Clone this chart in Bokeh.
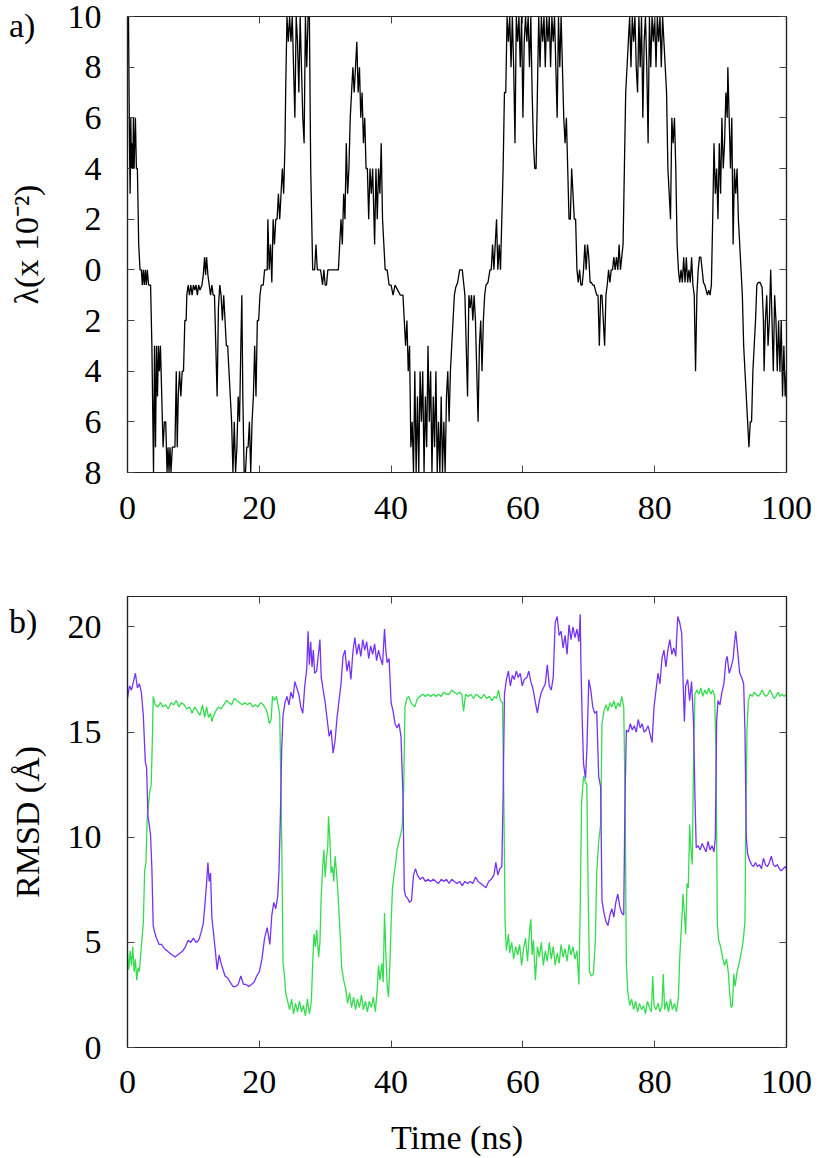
from bokeh.plotting import figure
from bokeh.layouts import column
from bokeh.models import LinearAxis, FixedTicker, Range1d, Label
from bokeh.embed import file_html
from bokeh.resources import INLINE

# ---------------- data ----------------
x_ticks = [0, 20, 40, 60, 80, 100]
lam_ticks = [-8, -6, -4, -2, 0, 2, 4, 6, 8, 10]
lam_tick_labels = ["8", "6", "4", "2", "0", "2", "4", "6", "8", "10"]
rmsd_ticks = [0, 5, 10, 15, 20]
panel_labels = ["a)", "b)"]

lam_t = [0.0, 0.15, 0.3, 0.4, 0.5, 0.6, 0.7, 0.8, 0.9, 1.0, 1.1, 1.2, 1.35, 1.5, 1.7, 1.9, 2.1, 2.25, 2.4, 2.55,
         2.7, 2.85, 3.0, 3.2, 3.5, 3.7, 3.95, 4.1, 4.25, 4.4, 4.55, 4.7, 4.85, 5.0, 5.2, 5.4, 5.6, 5.8, 6.0, 6.15,
         6.3, 6.45, 6.6, 6.8, 7.0, 7.2, 7.4, 7.55, 7.7, 7.9, 8.1, 8.3, 8.5, 8.7, 8.9, 9.0, 9.2, 9.4, 9.6, 9.8,
         10.0, 10.2, 10.4, 10.6, 10.8, 11.0, 11.3, 11.5, 11.7, 11.85, 12.0, 12.2, 12.4, 12.6, 12.8, 13.0, 13.2, 13.4, 13.6, 13.8,
         14.0, 14.2, 14.4, 14.6, 14.8, 15.0, 15.2, 15.4, 15.6, 15.8, 16.0, 16.2, 16.4, 16.6, 16.8, 17.0, 17.2, 17.35, 17.5, 17.7,
         17.9, 18.1, 18.3, 18.5, 18.7, 18.9, 19.1, 19.3, 19.5, 19.7, 19.9, 20.1, 20.3, 20.6, 20.8, 21.2, 21.3, 21.5, 21.7, 21.9,
         22.1, 22.3, 22.5, 22.7, 22.9, 23.1, 23.3, 23.5, 23.7, 23.9, 24.0, 24.2, 24.4, 24.6, 24.8, 25.0, 25.2, 25.4, 25.6, 25.8,
         26.0, 26.2, 26.4, 26.6, 26.8, 27.0, 27.2, 27.4, 27.6, 27.8, 27.95, 28.1, 28.4, 28.6, 28.8, 29.3, 29.6, 29.8, 30.0, 30.2,
         30.4, 31.0, 31.6, 32.0, 32.2, 32.4, 32.6, 32.8, 33.0, 33.2, 33.4, 33.6, 33.8, 34.0, 34.2, 34.4, 34.6, 34.8, 35.0, 35.2,
         35.4, 35.6, 35.8, 36.0, 36.2, 36.4, 36.6, 36.8, 37.0, 37.2, 37.4, 37.5, 37.7, 37.9, 38.1, 38.3, 38.5, 38.7, 38.9, 39.1,
         39.4, 39.7, 40.0, 40.3, 40.6, 41.0, 41.4, 41.8, 42.0, 42.2, 42.4, 42.6, 42.8, 43.0, 43.2, 43.4, 43.6, 43.8, 44.0, 44.2,
         44.4, 44.6, 44.8, 45.0, 45.2, 45.4, 45.6, 45.8, 46.0, 46.2, 46.4, 46.6, 46.8, 47.0, 47.2, 47.4, 47.6, 47.8, 48.0, 48.2,
         48.4, 48.6, 48.8, 49.0, 49.2, 49.4, 49.6, 49.8, 50.1, 50.4, 50.8, 51.0, 51.2, 51.4, 51.6, 51.8, 52.0, 52.2, 52.4, 52.6,
         52.8, 53.0, 53.2, 53.4, 53.6, 53.8, 54.0, 54.2, 54.4, 54.7, 55.0, 55.2, 55.4, 55.6, 55.8, 56.0, 56.2, 56.4, 56.6, 56.8,
         57.0, 57.2, 57.4, 57.6, 57.8, 58.0, 58.2, 58.4, 58.6, 58.8, 59.0, 59.2, 59.4, 59.6, 59.8, 60.0, 60.2, 60.4, 60.6, 60.8,
         61.0, 61.2, 61.4, 61.6, 61.8, 62.0, 62.2, 62.4, 62.6, 62.8, 63.0, 63.2, 63.4, 63.6, 63.8, 64.0, 64.2, 64.4, 64.6, 64.8,
         65.0, 65.2, 65.4, 65.6, 65.8, 66.0, 66.2, 66.4, 66.6, 66.8, 67.0, 67.2, 67.4, 67.6, 67.8, 68.0, 68.2, 68.4, 68.6, 68.8,
         69.0, 69.2, 69.4, 69.6, 69.8, 70.0, 70.2, 70.4, 70.6, 70.8, 71.0, 71.2, 71.4, 71.6, 71.8, 72.0, 72.2, 72.4, 72.6, 72.8,
         73.0, 73.2, 73.4, 73.6, 73.8, 74.0, 74.2, 74.4, 74.6, 74.8, 75.0, 75.2, 75.4, 75.6, 75.8, 76.0, 76.2, 76.4, 76.6, 76.8,
         77.0, 77.2, 77.4, 77.6, 77.8, 78.0, 78.2, 78.4, 78.6, 78.8, 79.0, 79.2, 79.4, 79.6, 79.8, 80.0, 80.2, 80.4, 80.6, 80.8,
         81.0, 81.2, 81.4, 81.6, 81.8, 82.0, 82.2, 82.4, 82.6, 82.8, 83.0, 83.2, 83.4, 83.6, 83.8, 84.0, 84.2, 84.4, 84.6, 84.8,
         85.0, 85.2, 85.4, 85.6, 85.8, 86.0, 86.2, 86.4, 86.6, 86.8, 87.0, 87.2, 87.4, 87.6, 87.8, 88.0, 88.2, 88.4, 88.6, 88.8,
         89.0, 89.2, 89.4, 89.6, 89.8, 90.0, 90.2, 90.4, 90.6, 90.8, 91.0, 91.1, 91.3, 91.5, 91.7, 91.9, 92.1, 92.3, 92.5, 92.7,
         92.9, 93.1, 93.3, 93.5, 93.7, 93.9, 94.1, 94.3, 94.5, 94.7, 94.9, 95.1, 95.3, 95.5, 95.7, 96.0, 96.3, 96.5, 96.6, 96.8,
         97.0, 97.2, 97.4, 97.6, 97.8, 98.0, 98.2, 98.4, 98.6, 98.8, 99.0, 99.2, 99.4, 99.6, 99.8, 100.0]
lam_v = [9.5, 10, 5, 3, 6, 4, 5, 4, 6, 4, 5, 6, 4, 4, 1, 0, 0, -0.6, 0, -0.6,
         0, -0.6, 0, -0.6, -0.6, -3, -8, -3, -7, -3, -5, -3, -4, -3, -5, -7, -6, -6, -8, -7,
         -8, -7, -8, -7, -7, -7, -4, -7, -5, -4, -5, -4, -4, -2, -2, -1, -0.6, -1, -0.6, -1,
         -0.6, -0.8, -0.6, -1, -0.6, -0.8, -0.6, -0.2, 0.5, -0.2, 0.5, -0.2, -0.6, -1, -0.6, -1, -1, -3, -5, -1.5,
         -0.6, -1, -2, -1, -2, -3, -3, -4, -5, -6, -8, -6, -8, -7, -5, -6, -3, -1, -5, -8,
         -8, -7, -7, -6, -8, -6, -5, -3, -5, -2, -2, -1, -0.6, -0.6, 0, 0, 2, 0, 1, -0.5,
         2, 1, 2, 2, 3, 2, 3, 4, 3, 5, 7, 10, 9, 10, 9, 10, 8, 6, 10, 9,
         7, 10, 8, 6, 5, 10, 8, 10, 10, 4, 2, 0, 0, 1, 0, 0, -0.6, 0, -0.6, -0.6,
         0, 0, 0, 0, 1, 2, 1, 3, 2, 5, 3, 4, 6, 7, 8, 7, 8, 9, 7, 8,
         6, 7, 5, 6, 4, 4, 2, 4, 3, 4, 2, 1, 4, 2, 4, 3, 5, 2, 1, 0,
         0, -0.6, -0.6, -1, -0.6, -0.8, -1, -1, -2, -3, -2, -4, -3, -7, -6, -8, -4, -8, -5, -8,
         -4, -6, -4, -8, -5, -7, -3, -6, -4, -8, -5, -7, -4, -8, -6, -8, -5, -8, -6, -8,
         -5, -4, -6, -4, -3, -2, -1, -0.7, -0.5, 0, 0, -0.5, -1, -3, -5, -1, -1.5, -1, -2, -1,
         -2, -4, -6, -3, -2, -4, -2, -1, -0.6, -0.5, 0, 0, 1, 0, 1, 2, 0, 1, 0, 2,
         4, 7, 7, 10, 9, 10, 8, 10, 8, 5, 10, 9, 10, 8, 10, 6, 9, 10, 9, 10,
         8, 10, 7, 5, 4, 4, 7, 10, 8, 10, 9, 10, 8, 10, 9, 10, 8, 10, 9, 10,
         8, 6, 10, 8, 10, 8, 6, 5, 6, 4, 2, 2, 4, 3, 2, 2, 0, -0.5, 0, -0.6,
         -0.6, 0, 1, 0, 1, 0.5, -0.5, -0.5, -0.6, -0.6, -0.8, -1, -1, -3, -1, -1, -2, -3, -1, -0.6,
         0, -0.5, 0, 0, 0.5, 0, 0.5, 0, 1, 0, 0.5, 1, 4, 7, 8, 9, 10, 8, 10, 9,
         10, 8, 7, 10, 8, 10, 6, 9, 10, 8, 5, 10, 8, 10, 9, 10, 8, 10, 9, 10,
         8, 10, 9, 8, 7, 4, 3, 2, 6, 5, 6, 4, 1, 0, -0.5, 0, -0.5, 0.5, -0.5, 0.5,
         -0.5, 0, -0.5, 0.5, -0.6, -1, -4, -1, 0, 0.5, 0.5, 0, -0.5, -0.6, -0.8, -1, -0.8, -1, -0.6, 2,
         5, 3, 4, 2, 5, 3, 6, 4, 5, 7, 6, 8, 6, 4, 6, 1, 4, 3, 4, 2,
         1, 0, -1, -3, -4, -5, -6, -7, -6, -6, -4, -3, -2, -0.6, -0.5, -0.5, -0.7, -2, -4, -2,
         -1, -3, -2, 0, -2, -4, -1, -2, -4, -2, -4, -2, -5, -3, -5, -4]

rmsd_purple_t = [0.0, 0.3, 0.6, 0.9, 1.2, 1.5, 1.8, 2.1, 2.4, 2.7, 2.9, 3.1, 3.3, 3.5, 3.7, 3.9, 4.1, 4.4, 4.8, 5.2,
                 5.6, 6.0, 6.4, 6.8, 7.2, 7.6, 8.0, 8.4, 8.8, 9.2, 9.6, 10.0, 10.4, 10.8, 11.2, 11.5, 11.8, 12.0, 12.2, 12.4,
                 12.6, 12.8, 13.0, 13.3, 13.6, 13.9, 14.2, 14.5, 14.8, 15.2, 15.6, 16.0, 16.4, 16.8, 17.2, 17.6, 18.0, 18.4, 18.8, 19.2,
                 19.6, 20.0, 20.4, 20.8, 21.2, 21.6, 21.9, 22.2, 22.5, 22.8, 23.0, 23.2, 23.4, 23.6, 23.9, 24.2, 24.5, 24.8, 25.1, 25.4,
                 25.7, 26.0, 26.3, 26.6, 26.9, 27.2, 27.4, 27.6, 27.8, 28.0, 28.2, 28.4, 28.7, 29.0, 29.2, 29.4, 29.7, 30.0, 30.3, 30.6,
                 30.9, 31.2, 31.5, 31.8, 32.1, 32.4, 32.7, 33.0, 33.3, 33.6, 33.9, 34.2, 34.5, 34.8, 35.1, 35.4, 35.7, 36.0, 36.3, 36.6,
                 36.9, 37.2, 37.5, 37.8, 38.1, 38.4, 38.7, 39.0, 39.2, 39.4, 39.7, 40.0, 40.3, 40.6, 40.9, 41.2, 41.5, 41.8, 42.0, 42.2,
                 42.5, 42.8, 43.1, 43.4, 43.7, 44.0, 44.4, 44.8, 45.2, 45.6, 46.0, 46.4, 46.8, 47.2, 47.6, 48.0, 48.4, 48.8, 49.2, 49.6,
                 50.0, 50.4, 50.8, 51.2, 51.6, 52.0, 52.4, 52.8, 53.2, 53.6, 54.0, 54.4, 54.8, 55.2, 55.6, 55.9, 56.2, 56.5, 56.8, 57.0,
                 57.2, 57.5, 57.8, 58.1, 58.4, 58.7, 59.0, 59.3, 59.6, 59.9, 60.2, 60.6, 60.9, 61.2, 61.5, 61.9, 62.2, 62.5, 62.8, 63.1,
                 63.4, 63.7, 64.0, 64.3, 64.6, 64.9, 65.2, 65.5, 65.8, 66.1, 66.4, 66.7, 67.0, 67.3, 67.6, 67.9, 68.2, 68.5, 68.7, 68.8,
                 69.0, 69.2, 69.5, 69.7, 70.0, 70.3, 70.6, 70.9, 71.2, 71.5, 71.8, 72.0, 72.3, 72.6, 72.9, 73.2, 73.5, 73.8, 74.1, 74.4,
                 74.7, 75.0, 75.3, 75.5, 75.7, 76.0, 76.3, 76.6, 76.9, 77.2, 77.5, 77.8, 78.1, 78.4, 78.7, 79.0, 79.3, 79.6, 79.9, 80.2,
                 80.5, 80.8, 81.1, 81.4, 81.7, 82.0, 82.3, 82.6, 82.9, 83.2, 83.5, 83.8, 84.1, 84.3, 84.5, 84.7, 85.0, 85.3, 85.6, 85.9,
                 86.1, 86.3, 86.6, 86.9, 87.2, 87.5, 87.8, 88.1, 88.4, 88.7, 89.0, 89.2, 89.4, 89.6, 89.9, 90.2, 90.5, 90.8, 91.0, 91.3,
                 91.6, 91.9, 92.1, 92.3, 92.6, 92.9, 93.2, 93.5, 93.7, 93.9, 94.1, 94.4, 94.7, 95.0, 95.3, 95.6, 95.9, 96.2, 96.5, 96.8,
                 97.1, 97.4, 97.7, 98.0, 98.3, 98.6, 98.9, 99.2, 99.5, 99.8, 100.0]
rmsd_purple = [16.6, 17.2, 17.0, 17.4, 17.8, 17.1, 17.3, 16.9, 15.8, 13.6, 13.3, 11.0, 10.6, 10.1, 8.5, 5.8, 5.5, 5.2, 4.9, 4.9,
               4.7, 4.6, 4.5, 4.4, 4.3, 4.4, 4.5, 4.6, 4.8, 5.1, 5.0, 5.2, 5.0, 5.1, 5.5, 5.9, 7.0, 7.8, 8.8, 7.9,
               8.3, 6.2, 5.6, 4.7, 3.7, 4.4, 4.0, 3.7, 3.4, 3.3, 3.1, 2.9, 2.9, 3.0, 3.4, 3.0, 3.0, 2.9, 3.0, 3.1,
               3.4, 3.6, 4.2, 5.2, 5.7, 4.9, 6.3, 6.9, 6.6, 7.2, 8.5, 11.0, 14.2, 15.8, 16.4, 16.7, 16.3, 16.9, 16.6, 17.4,
               17.1, 16.8, 16.2, 15.9, 17.2, 18.0, 19.8, 18.2, 19.3, 18.1, 18.9, 17.8, 17.9, 18.8, 19.4, 17.6, 17.0, 16.4, 15.6, 14.8,
               15.1, 14.0, 14.6, 15.7, 16.5, 17.3, 18.6, 18.9, 17.9, 18.4, 17.5, 18.8, 19.5, 18.7, 19.2, 18.6, 19.4, 18.9, 19.3, 18.5,
               19.1, 18.7, 19.2, 18.4, 18.9, 18.5, 18.2, 19.9, 18.9, 18.3, 18.5, 16.4, 16.0, 15.4, 15.2, 15.4, 14.8, 12.0, 7.5, 7.2,
               7.1, 6.9, 7.0, 8.2, 8.5, 8.2, 8.0, 8.1, 7.9, 8.0, 7.9, 8.0, 7.9, 7.8, 8.0, 7.9, 8.0, 7.8, 8.0, 7.9,
               7.8, 7.9, 7.7, 7.9, 7.8, 7.9, 7.8, 8.1, 7.9, 7.8, 7.7, 7.6, 7.9, 8.0, 8.2, 8.8, 8.2, 8.5, 8.6, 12.0,
               16.8, 17.5, 17.9, 17.2, 17.7, 17.5, 17.9, 17.6, 17.8, 17.2, 17.5, 17.6, 17.9, 17.4, 17.1, 16.4, 15.9, 16.5, 16.9, 17.1,
               17.3, 18.2, 17.2, 17.0, 17.6, 20.2, 20.5, 19.6, 19.8, 19.0, 19.6, 18.7, 20.1, 19.4, 20.0, 19.5, 19.9, 19.3, 20.6, 18.3,
               15.6, 13.5, 12.8, 14.1, 17.5, 17.0, 16.2, 15.9, 16.0, 12.9, 12.4, 7.0, 6.4, 6.0, 5.8, 6.3, 6.6, 6.2, 6.9, 7.3,
               6.7, 6.4, 6.3, 12.0, 15.1, 15.0, 15.4, 15.1, 15.3, 15.0, 15.6, 15.2, 15.4, 15.0, 15.1, 15.3, 14.9, 14.5, 16.2, 17.0,
               17.8, 17.3, 18.5, 18.9, 18.1, 18.9, 19.4, 18.7, 19.0, 18.6, 20.5, 20.2, 19.7, 17.5, 15.5, 17.2, 17.5, 16.5, 17.4, 15.4,
               12.0, 9.5, 9.6, 9.4, 9.7, 9.5, 9.3, 9.8, 9.4, 9.6, 9.3, 10.0, 15.5, 16.5, 16.3, 16.9, 17.3, 18.4, 18.6, 17.8,
               18.1, 18.5, 19.2, 19.8, 18.8, 17.8, 17.6, 17.3, 15.0, 10.0, 9.2, 8.9, 8.7, 8.6, 8.8, 8.6, 8.7, 8.5, 9.0, 8.7,
               8.6, 8.8, 9.1, 8.7, 8.6, 8.7, 8.5, 8.4, 8.5, 8.6, 8.5]

rmsd_green_t = [0.0, 0.2, 0.4, 0.6, 0.8, 1.0, 1.2, 1.4, 1.6, 1.8, 2.0, 2.2, 2.4, 2.6, 2.8, 3.0, 3.2, 3.4, 3.6, 3.8,
                3.9, 4.2, 4.6, 5.0, 5.4, 5.8, 6.2, 6.6, 7.0, 7.4, 7.8, 8.2, 8.6, 9.0, 9.4, 9.8, 10.2, 10.6, 11.0, 11.4,
                11.7, 12.0, 12.3, 12.6, 12.8, 13.1, 13.4, 13.8, 14.2, 14.6, 15.0, 15.4, 15.8, 16.2, 16.6, 17.0, 17.4, 17.8, 18.2, 18.6,
                19.0, 19.4, 19.8, 20.2, 20.6, 21.0, 21.3, 21.5, 21.8, 22.0, 22.3, 22.6, 22.9, 23.1, 23.3, 23.4, 23.6, 23.8, 24.0, 24.3,
                24.6, 24.9, 25.2, 25.5, 25.8, 26.1, 26.4, 26.7, 27.0, 27.3, 27.6, 27.9, 28.1, 28.3, 28.5, 28.7, 29.0, 29.2, 29.4, 29.6,
                29.8, 30.0, 30.2, 30.4, 30.5, 30.7, 30.9, 31.1, 31.3, 31.5, 31.7, 31.9, 32.1, 32.3, 32.5, 32.8, 33.1, 33.4, 33.7, 34.0,
                34.3, 34.6, 34.9, 35.2, 35.5, 35.8, 36.1, 36.4, 36.7, 37.0, 37.3, 37.6, 37.9, 38.1, 38.3, 38.6, 38.8, 39.0, 39.2, 39.4,
                39.6, 39.8, 40.0, 40.2, 40.4, 40.7, 40.9, 41.2, 41.5, 41.7, 41.9, 42.1, 42.4, 42.7, 43.0, 43.3, 43.6, 44.0, 44.4, 44.8,
                45.2, 45.6, 46.0, 46.4, 46.8, 47.2, 47.6, 48.0, 48.4, 48.8, 49.2, 49.6, 50.0, 50.4, 50.7, 51.0, 51.3, 51.7, 52.1, 52.5,
                52.9, 53.3, 53.7, 54.1, 54.5, 54.9, 55.3, 55.7, 56.0, 56.3, 56.6, 56.9, 57.1, 57.3, 57.5, 57.8, 58.0, 58.3, 58.6, 58.9,
                59.2, 59.5, 59.8, 60.1, 60.4, 60.7, 61.0, 61.2, 61.4, 61.6, 61.9, 62.2, 62.5, 62.8, 63.1, 63.4, 63.7, 64.0, 64.3, 64.6,
                64.9, 65.2, 65.5, 65.8, 66.1, 66.4, 66.7, 67.0, 67.3, 67.6, 67.9, 68.2, 68.5, 68.7, 68.9, 69.2, 69.5, 69.7, 69.9, 70.1,
                70.4, 70.7, 71.0, 71.2, 71.5, 71.8, 72.0, 72.3, 72.6, 72.9, 73.2, 73.5, 73.8, 74.1, 74.4, 74.7, 75.0, 75.3, 75.5, 75.7,
                75.9, 76.2, 76.5, 76.8, 77.1, 77.4, 77.7, 78.0, 78.3, 78.6, 78.9, 79.2, 79.5, 79.7, 79.9, 80.2, 80.5, 80.8, 81.1, 81.3,
                81.5, 81.8, 82.1, 82.4, 82.7, 83.0, 83.3, 83.6, 83.8, 84.1, 84.3, 84.5, 84.7, 84.9, 85.1, 85.3, 85.5, 85.7, 85.9, 86.1,
                86.4, 86.7, 87.0, 87.3, 87.6, 87.9, 88.2, 88.5, 88.8, 89.1, 89.3, 89.5, 89.7, 90.0, 90.3, 90.6, 90.9, 91.2, 91.4, 91.6,
                91.8, 92.0, 92.2, 92.5, 92.8, 93.0, 93.3, 93.5, 93.7, 93.8, 94.0, 94.2, 94.5, 94.8, 95.1, 95.4, 95.7, 96.0, 96.3, 96.6,
                96.9, 97.2, 97.5, 97.8, 98.1, 98.4, 98.7, 99.0, 99.3, 99.6, 100.0]
rmsd_green = [4.5, 3.7, 4.6, 3.9, 4.8, 3.6, 4.2, 3.2, 3.8, 3.6, 4.4, 5.2, 5.9, 8.4, 8.8, 11.0, 11.6, 12.2, 12.5, 15.0,
              16.7, 16.3, 16.2, 16.4, 16.2, 16.3, 16.1, 16.4, 16.3, 16.5, 16.2, 16.4, 16.3, 16.1, 16.2, 15.9, 16.2, 16.0, 15.8, 16.3,
              15.7, 16.2, 15.7, 15.9, 15.5, 15.8, 16.0, 16.2, 16.1, 16.3, 16.5, 16.4, 16.3, 16.6, 16.5, 16.4, 16.3, 16.4, 16.3, 16.4,
              16.2, 16.3, 16.2, 16.4, 16.3, 16.1, 15.8, 15.4, 15.6, 16.7, 16.5, 16.7, 16.2, 15.8, 12.0, 9.9, 4.0, 3.5, 2.6, 2.2,
              1.8, 2.3, 1.6, 2.1, 1.7, 2.2, 1.7, 2.0, 1.5, 2.3, 1.6, 2.2, 4.0, 5.4, 4.8, 5.6, 4.3, 5.0, 7.2, 8.5,
              9.4, 8.1, 9.0, 9.6, 11.0, 10.0, 8.3, 8.6, 7.9, 9.1, 8.4, 7.5, 6.4, 5.2, 3.8, 3.2, 2.8, 2.1, 2.6, 1.9,
              2.4, 1.8, 2.3, 1.9, 2.5, 1.8, 2.2, 1.7, 2.2, 1.9, 2.4, 1.7, 2.8, 3.9, 3.2, 4.0, 3.1, 6.4, 4.5, 3.0,
              2.4, 3.8, 5.9, 7.5, 8.1, 8.8, 9.4, 9.8, 10.2, 10.6, 12.2, 16.2, 16.6, 16.7, 16.4, 16.3, 16.2, 16.6, 16.7, 16.8,
              16.7, 16.8, 16.7, 16.8, 16.7, 16.8, 16.7, 16.9, 16.8, 16.8, 17.0, 16.9, 16.8, 16.9, 16.8, 16.0, 16.8, 16.7, 16.8, 16.6,
              16.8, 16.7, 16.6, 16.8, 16.6, 16.7, 16.5, 16.7, 16.6, 17.0, 16.5, 16.4, 12.0, 5.9, 4.6, 5.4, 4.5, 5.0, 4.2, 4.8,
              4.4, 4.9, 3.9, 4.7, 5.2, 4.1, 5.5, 6.1, 4.4, 5.1, 3.2, 4.8, 4.3, 5.0, 3.9, 4.6, 4.1, 5.0, 4.2, 4.8,
              3.9, 4.5, 4.0, 4.9, 4.3, 4.7, 4.1, 4.9, 4.4, 4.8, 4.2, 4.6, 3.0, 6.7, 11.6, 12.9, 12.6, 12.5, 7.5, 3.6,
              3.4, 3.5, 5.1, 8.3, 9.8, 10.6, 15.4, 16.0, 16.3, 16.0, 16.4, 16.2, 16.5, 16.1, 16.4, 16.2, 16.7, 16.2, 12.0, 4.0,
              2.7, 2.0, 2.3, 1.8, 2.2, 1.7, 2.1, 1.8, 2.0, 1.6, 2.2, 1.9, 1.7, 3.4, 2.0, 1.8, 2.1, 1.7, 2.0, 3.5,
              1.8, 2.2, 1.7, 2.3, 1.8, 2.1, 1.7, 2.4, 4.3, 6.0, 7.3, 6.4, 5.4, 7.8, 7.6, 10.6, 9.4, 8.7, 13.8, 16.8,
              17.0, 16.8, 17.1, 16.7, 17.0, 16.8, 17.1, 16.8, 17.0, 16.7, 14.0, 5.9, 5.1, 4.8, 4.3, 3.9, 4.2, 3.5, 2.5, 1.9,
              2.0, 3.5, 2.9, 3.6, 4.0, 4.3, 4.8, 5.3, 6.0, 10.0, 15.0, 16.5, 16.8, 16.7, 16.9, 16.8, 16.7, 16.8, 17.0, 16.8,
              16.7, 16.8, 17.0, 16.8, 16.6, 16.7, 16.9, 16.7, 16.8, 16.7, 16.8]

# ---------------- styling helpers ----------------
FONT = "Liberation Serif"
FS = "34px"
PURPLE = "#7433f6"
GREEN = "#36dc4f"


def style_axis(ax, ticks, show_labels=True):
    ax.ticker = FixedTicker(ticks=ticks)
    ax.axis_line_color = "#222222"
    ax.axis_line_width = 1.2
    ax.major_tick_in = 7
    ax.major_tick_out = 0
    ax.major_tick_line_color = "#444444"
    ax.major_tick_line_width = 1
    ax.minor_tick_line_color = None
    ax.major_label_text_font = FONT
    ax.major_label_text_color = "black"
    ax.axis_label_text_font = FONT
    ax.axis_label_text_font_style = "normal"
    ax.axis_label_text_color = "black"
    ax.axis_label_text_font_size = FS
    if show_labels:
        ax.major_label_text_font_size = FS
    else:
        ax.major_label_text_font_size = "1px"
        ax.major_label_text_color = None
        ax.major_label_standoff = 0


def make_fig(frame_h, y_range, border_top, border_bottom):
    p = figure(frame_width=659, frame_height=frame_h,
               x_range=Range1d(0, 100), y_range=y_range,
               output_backend="svg", toolbar_location=None,
               min_border_left=127, min_border_right=32,
               min_border_top=border_top, min_border_bottom=border_bottom)
    p.xgrid.visible = False
    p.ygrid.visible = False
    p.outline_line_color = "#222222"
    p.outline_line_width = 1.2
    p.background_fill_color = "white"
    p.border_fill_color = "white"
    return p


def panel_tag(text, x, y):
    return Label(x=x, y=y, text=text, text_font=FONT, text_font_size=FS,
                 text_color="black", text_baseline="alphabetic", text_align="left")


# ---------------- panel a ----------------
p1 = make_fig(456, Range1d(-8, 10), 16, 64)
p1.line(lam_t, lam_v, line_color="black", line_width=1.3)
style_axis(p1.xaxis[0], x_ticks)
style_axis(p1.yaxis[0], lam_ticks)
p1.xaxis.major_label_standoff = 24
p1.yaxis.major_label_standoff = 26
p1.yaxis.major_label_overrides = {t: s for t, s in zip(lam_ticks, lam_tick_labels)}
p1.yaxis[0].axis_label = "λ(x 10⁻²)"
p1.yaxis[0].axis_label_standoff = 20
top1 = LinearAxis()
style_axis(top1, x_ticks, False)
p1.add_layout(top1, "above")
right1 = LinearAxis()
style_axis(right1, lam_ticks, False)
p1.add_layout(right1, "right")
# the panel letter lives in a side panel so that it is not clipped to the frame
p1.add_layout(panel_tag(panel_labels[0], -18.0, 9.65), "right")

# ---------------- panel b ----------------
p2 = make_fig(451, Range1d(0, 21.45), 60, 111)
p2.line(rmsd_green_t, rmsd_green, line_color=GREEN, line_width=1.3)
p2.line(rmsd_purple_t, rmsd_purple, line_color=PURPLE, line_width=1.3)
style_axis(p2.xaxis[0], x_ticks)
style_axis(p2.yaxis[0], rmsd_ticks)
p2.xaxis.major_label_standoff = 23
p2.yaxis.major_label_standoff = 26
p2.yaxis[0].axis_label = "RMSD (Å)"
p2.yaxis[0].axis_label_standoff = 19
p2.xaxis[0].axis_label = "Time (ns)"
p2.xaxis[0].axis_label_standoff = 23
top2 = LinearAxis()
style_axis(top2, x_ticks, False)
p2.add_layout(top2, "above")
right2 = LinearAxis()
style_axis(right2, rmsd_ticks, False)
p2.add_layout(right2, "right")
p2.add_layout(panel_tag(panel_labels[1], -18.0, 20.28), "right")

layout = column(p1, p2)
open("out.html", "w").write(file_html(layout, INLINE))
